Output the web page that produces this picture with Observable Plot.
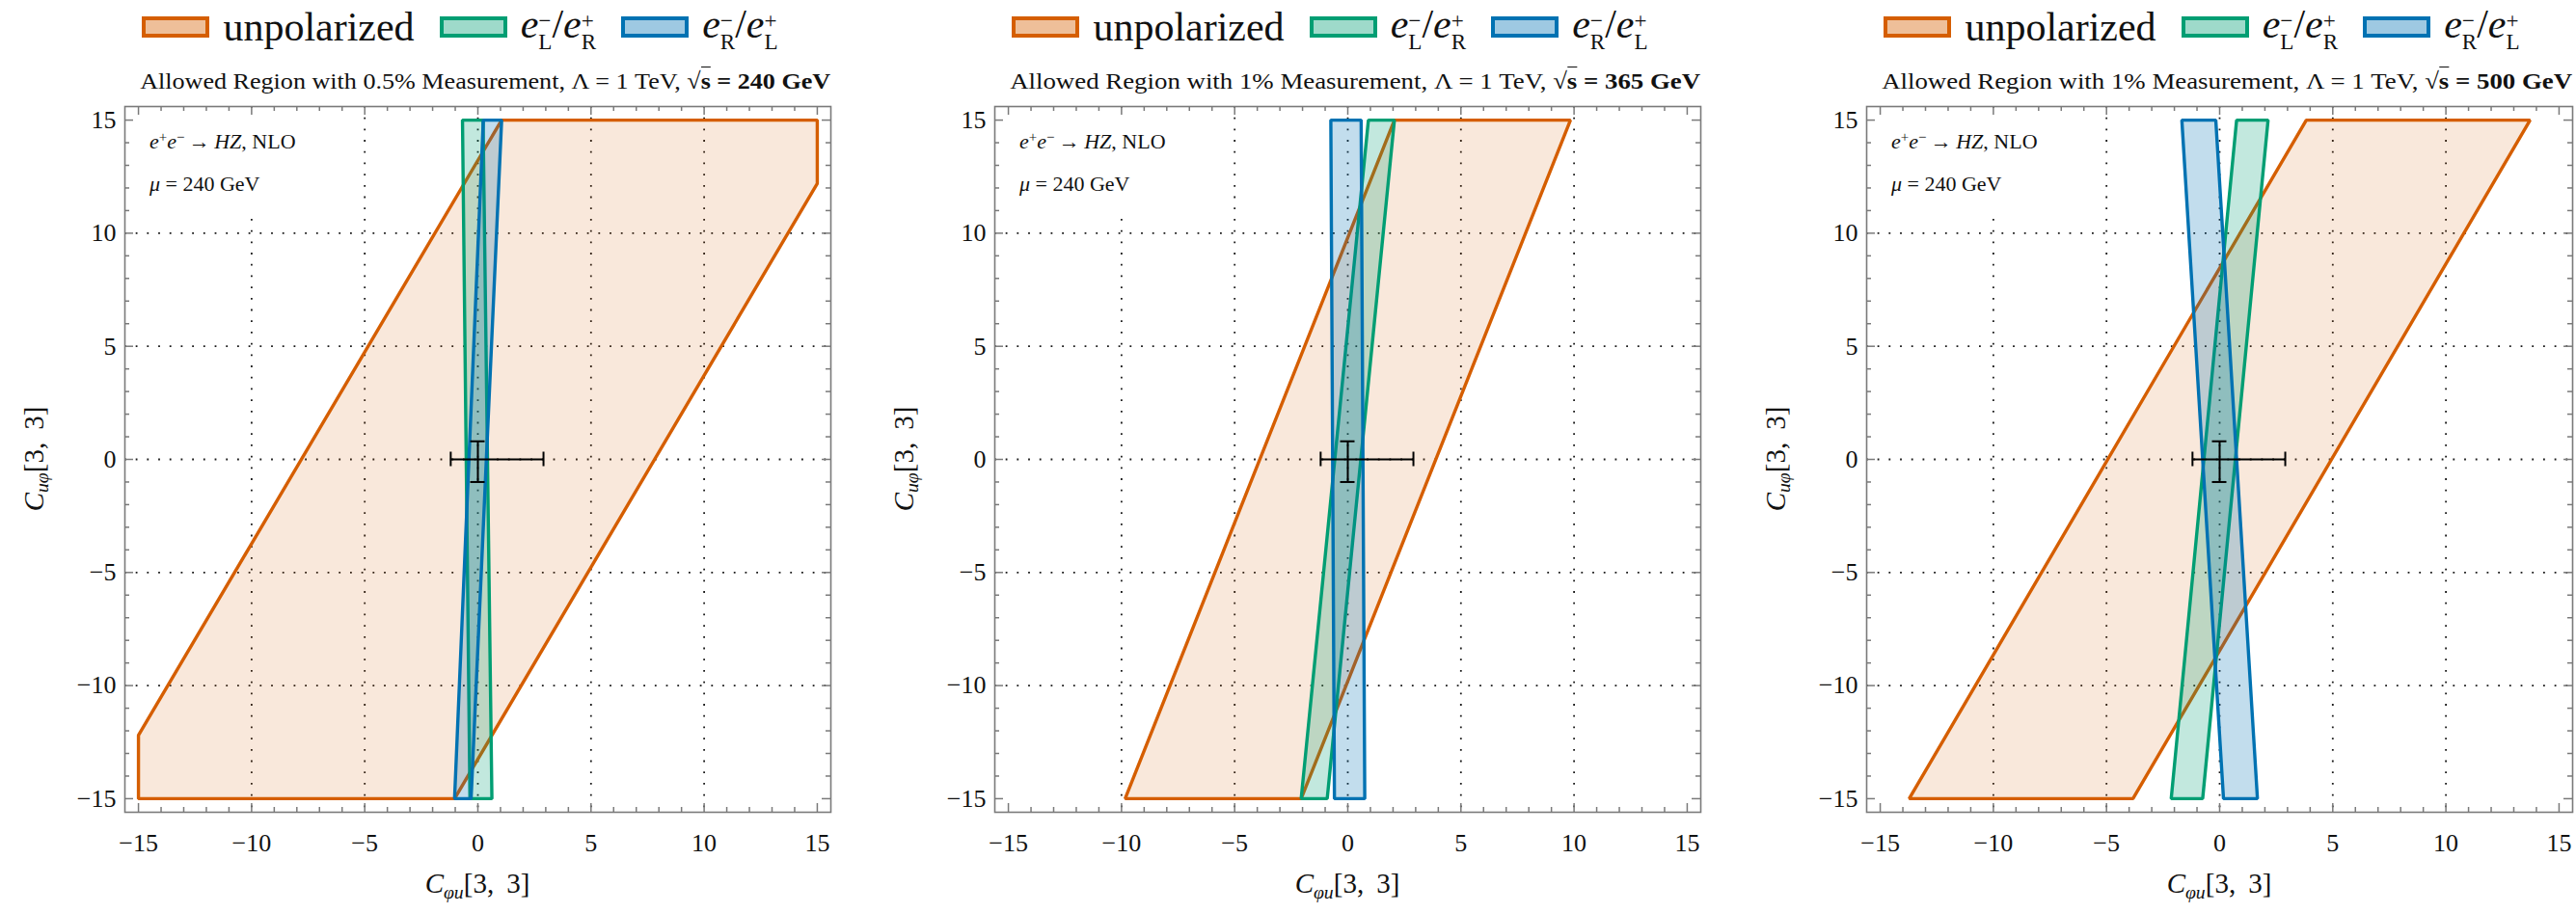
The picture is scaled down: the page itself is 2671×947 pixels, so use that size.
<!DOCTYPE html>
<html><head><meta charset="utf-8">
<script src="https://cdn.jsdelivr.net/npm/d3@7"></script>
<script src="https://cdn.jsdelivr.net/npm/@observablehq/plot@0.6"></script>
<style>
body{margin:0;width:2671px;height:947px;overflow:hidden;background:#fff;font-family:"Liberation Serif",serif;color:#111;position:relative}
.panel{position:absolute;top:0;width:866px;height:947px}
.legend{position:absolute;left:124px;width:706px;top:7px;height:42px;display:flex;align-items:center;justify-content:center;font-size:42px;white-space:nowrap}
.sw{display:inline-block;flex:none;width:70px;height:22px;box-sizing:border-box;border:4px solid;margin-right:14px}
.lt{margin-right:26px;flex:none}
.lt:last-child{margin-right:0}
.title{position:absolute;left:145px;width:716px;top:70px;text-align:center;font-size:24px;white-space:nowrap;line-height:28px}
.title span.t{display:inline-block;transform-origin:50% 50%}
.chart{position:absolute;top:100px;left:0}
.chart text{font-family:"Liberation Serif",serif !important}
.box{position:absolute;left:139px;top:120px;width:216px;height:97px;background:#fff}
.ann{position:absolute;font-size:22px;white-space:nowrap;line-height:1}
.ss{display:inline-flex;flex-direction:column;font-size:0.55em;line-height:0.95;vertical-align:0.45em;text-align:left}
.xl{position:absolute;left:129px;width:732px;top:900px;text-align:center;font-size:29px;white-space:nowrap}
.yl{position:absolute;left:37px;top:476px;font-size:29px;white-space:nowrap;transform:translate(-50%,-50%) rotate(-90deg)}
sub.s{font-size:0.68em;vertical-align:-0.3em}
sup.p{font-size:0.68em;vertical-align:0.45em}
.rad{border-top:1.6px solid #111;padding-top:1px}
</style></head>
<body>
<script>
// ---------- data ----------
const seriesNames = ["unpolarized", "eL/eR", "eR/eL"];
const seriesColors = ["#D55E00", "#009E73", "#0072B2"];
const measurePct = ["0.5%", "1%", "1%"];
const sqrtS = ["240", "365", "500"];

// polygon vertices [Cφu, Cuφ]
const unpol240 = [[-15,-15],[-1.03,-15],[15,12.2],[15,15],[1.05,15],[-15,-12.2]];
const eLR240   = [[-0.68,15],[0.23,15],[0.62,-15],[-0.35,-15]];
const eRL240   = [[0.24,15],[1.05,15],[-0.3,-15],[-1.03,-15]];

const unpol365 = [[2.06,15],[9.84,15],[-2.06,-15],[-9.84,-15]];
const eLR365   = [[0.91,15],[2.06,15],[-0.91,-15],[-2.06,-15]];
const eRL365   = [[-0.75,15],[0.59,15],[0.75,-15],[-0.59,-15]];

const unpol500 = [[3.83,15],[13.72,15],[-3.83,-15],[-13.72,-15]];
const eLR500   = [[0.75,15],[2.14,15],[-0.75,-15],[-2.14,-15]];
const eRL500   = [[-1.67,15],[-0.17,15],[1.67,-15],[0.17,-15]];

// error bar (same in every panel)
const errCenter = [0, 0];
const errX = [-1.2, 2.9];
const errY = [-1.0, 0.8];

// axes
const axisDomain = [-15.6, 15.6];
const majorTicks = [-15, -10, -5, 0, 5, 10, 15];
const minorTicks = [-14,-13,-12,-11,-9,-8,-7,-6,-4,-3,-2,-1,1,2,3,4,6,7,8,9,11,12,13,14];
const gridTicks = [-10, -5, 0, 5, 10];

const panelPolys = [
  [unpol240, eLR240, eRL240],
  [unpol365, eLR365, eRL365],
  [unpol500, eLR500, eRL500]
];

// ---------- layout ----------
const frame = 732, mL = 129, mR = 5, mT = 10, mB = 105;
const pxPerUnit = frame / (axisDomain[1] - axisDomain[0]);
const L = px => px / pxPerUnit;
const fmt = d => d < 0 ? "\u2212" + Math.abs(d) : String(d);
const frameGray = "#7a7a7a";
const fillOp = [0.14, 0.24, 0.24];
const legOp = [0.4, 0.38, 0.38];
const serif = "Liberation Serif, serif";

function rgba(hex, a) {
  const c = d3.rgb(hex); return `rgba(${c.r},${c.g},${c.b},${a})`;
}
const legendLabels = [
  `unpolarized`,
  `<i>e</i><span class="ss"><span>\u2212</span><span>L</span></span>/<i>e</i><span class="ss"><span>+</span><span>R</span></span>`,
  `<i>e</i><span class="ss"><span>\u2212</span><span>R</span></span>/<i>e</i><span class="ss"><span>+</span><span>L</span></span>`
];

const blockLeft = [0, 902, 1806];

panelPolys.forEach((polys, p) => {
  const div = document.createElement("div");
  div.className = "panel";
  div.style.left = blockLeft[p] + "px";
  document.body.appendChild(div);

  // legend
  const leg = document.createElement("div");
  leg.className = "legend";
  leg.innerHTML = seriesNames.map((n, i) =>
    `<span class="sw" style="border-color:${seriesColors[i]};background:${rgba(seriesColors[i], legOp[i])}"></span><span class="lt">${legendLabels[i]}</span>`).join("");
  div.appendChild(leg);

  // title
  const tt = document.createElement("div");
  tt.className = "title";
  tt.innerHTML = `<span class="t">Allowed Region with ${measurePct[p]} Measurement, \u039B = 1 TeV, <b>\u221A<span class="rad">s</span> = ${sqrtS[p]} GeV</b></span>`;
  div.appendChild(tt);

  const tickRule = (ticks, len, side) => {
    const o = {stroke: frameGray, strokeWidth: 1.5};
    if (side === "bottom") return Plot.ruleX(ticks, {...o, x: d => d, y1: axisDomain[0], y2: axisDomain[0] + L(len)});
    if (side === "top") return Plot.ruleX(ticks, {...o, x: d => d, y1: axisDomain[1] - L(len), y2: axisDomain[1]});
    if (side === "left") return Plot.ruleY(ticks, {...o, y: d => d, x1: axisDomain[0], x2: axisDomain[0] + L(len)});
    return Plot.ruleY(ticks, {...o, y: d => d, x1: axisDomain[1] - L(len), x2: axisDomain[1]});
  };

  const marks = [
    Plot.ruleX(gridTicks, {x: d => d, stroke: "#1a1a1a", strokeWidth: 1.8, strokeDasharray: "1.8,9.9"}),
    Plot.ruleY(gridTicks, {y: d => d, stroke: "#1a1a1a", strokeWidth: 1.8, strokeDasharray: "1.8,9.9"})
  ];
  polys.forEach((poly, i) => {
    marks.push(Plot.line(poly, {x: d => d[0], y: d => d[1], curve: "linear-closed",
      fill: seriesColors[i], fillOpacity: fillOp[i], stroke: seriesColors[i], strokeWidth: 3.4, strokeLinejoin: "miter"}));
  });
  // error bars
  marks.push(
    Plot.ruleY([errCenter[1]], {y: d => d, x1: errX[0], x2: errX[1], stroke: "#000", strokeWidth: 2}),
    Plot.ruleX([errCenter[0]], {x: d => d, y1: errY[0], y2: errY[1], stroke: "#000", strokeWidth: 2}),
    Plot.ruleX(errX, {x: d => d, y1: errCenter[1] - L(7.5), y2: errCenter[1] + L(7.5), stroke: "#000", strokeWidth: 2}),
    Plot.ruleY(errY, {y: d => d, x1: errCenter[0] - L(7.5), x2: errCenter[0] + L(7.5), stroke: "#000", strokeWidth: 2})
  );
  // inward frame ticks
  ["bottom", "top", "left", "right"].forEach(s => { marks.push(tickRule(majorTicks, 9, s), tickRule(minorTicks, 5, s)); });
  marks.push(
    Plot.frame({stroke: frameGray, strokeWidth: 1.6}),
    Plot.axisX({ticks: majorTicks, tickSize: 0, tickPadding: 22, fontSize: 26, fontFamily: serif, label: null, tickFormat: fmt}),
    Plot.axisY({ticks: majorTicks, tickSize: 0, tickPadding: 9, fontSize: 26, fontFamily: serif, label: null, tickFormat: fmt})
  );

  const chart = Plot.plot({
    width: mL + frame + mR,
    height: mT + frame + mB,
    marginLeft: mL, marginRight: mR, marginTop: mT, marginBottom: mB,
    x: {domain: axisDomain},
    y: {domain: axisDomain},
    style: {fontFamily: serif, color: "#111", background: "transparent"},
    marks
  });
  chart.classList.add("chart");
  div.appendChild(chart);

  // annotation inset (white background box, as in the original)
  const box = document.createElement("div");
  box.className = "box";
  div.appendChild(box);
  const a1 = document.createElement("div");
  a1.className = "ann";
  a1.style.left = "155px"; a1.style.top = "135px";
  a1.innerHTML = `<i>e</i><sup class="p">+</sup><i>e</i><sup class="p">\u2212</sup>\u2009\u2192\u2009<i>HZ</i>, NLO`;
  div.appendChild(a1);
  const a2 = document.createElement("div");
  a2.className = "ann";
  a2.style.left = "155px"; a2.style.top = "180px";
  a2.innerHTML = `<i>\u03BC</i> = 240 GeV`;
  div.appendChild(a2);

  // axis labels
  const xl = document.createElement("div");
  xl.className = "xl";
  xl.innerHTML = `<i>C</i><sub class="s"><i>\u03C6u</i></sub>[3,\u2009 3]`;
  div.appendChild(xl);
  const yl = document.createElement("div");
  yl.className = "yl";
  yl.innerHTML = `<i>C</i><sub class="s"><i>u\u03C6</i></sub>[3,\u2009 3]`;
  div.appendChild(yl);
});

// fit titles to the measured width
document.querySelectorAll(".title span.t").forEach(s => {
  const w = s.getBoundingClientRect().width;
  const k = 716 / w;
  if (k > 0.8 && k < 1.3) s.style.transform = `scaleX(${k})`;
});
</script>
</body></html>
